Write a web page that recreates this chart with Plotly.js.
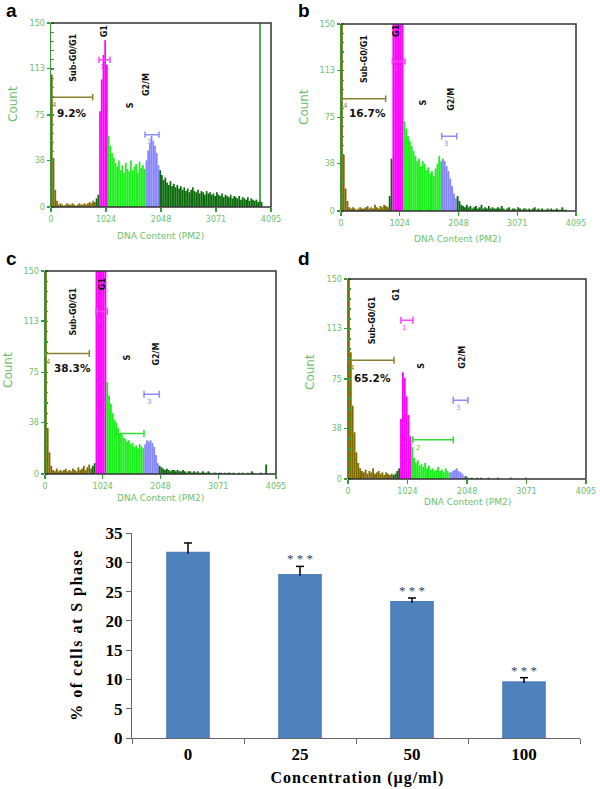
<!DOCTYPE html>
<html><head><meta charset="utf-8">
<script src="https://cdn.plot.ly/plotly-3.0.1.min.js"></script>
<style>html,body{margin:0;padding:0;background:#fff;}#chart{width:600px;height:789px;}</style>
</head><body><div id="chart"></div>
<script>
// ===================== DATA =====================
const binWidth = 32; // channels per histogram bin (0..4095)

const countsA = [108,40,14,5,2,3,2,1,2,3,2,2,3,2,1,2,3,2,2,3,2,3,4,3,5,4,
  7,10,
  78,104,124,136,116,
  58,50,44,40,36,33,38,30,34,28,36,31,29,38,30,33,35,28,37,32,34,31,
  38,46,52,58,54,50,44,34,
  30,26,22,24,20,18,21,17,19,16,18,15,17,14,16,13,15,12,14,16,
  13,12,14,11,13,12,10,13,11,12,10,11,9,12,10,9,11,8,10,9,
  8,10,7,9,8,7,9,6,8,7,6,8,5,7,6,5,6,4,5,4,
  0,0,0,0,0];
const countsB = [160,45,18,8,3,2,3,2,1,2,3,2,2,3,4,2,3,2,5,3,2,4,3,5,4,3,
  12,42,
  155,175,185,180,165,152,
  72,66,60,56,52,48,44,40,42,36,40,38,33,35,30,32,28,34,38,44,40,
  42,40,36,32,26,20,14,10,
  12,8,5,4,3,5,3,4,2,3,4,2,3,5,2,3,2,4,2,3,
  2,2,3,2,4,2,1,2,3,1,2,2,1,3,2,1,2,2,1,2,
  1,2,3,1,2,1,2,1,1,2,1,2,1,1,2,1,1,3,1,1,
  0,0,0,0,0];
const countsC = [160,34,16,6,3,2,4,2,3,2,3,4,2,3,2,4,3,2,5,3,4,6,3,5,7,4,
  6,8,
  160,170,180,178,170,158,
  68,58,52,45,40,38,34,30,30,27,26,24,25,22,23,20,21,19,22,20,19,
  22,25,24,25,23,20,14,8,
  6,5,4,3,4,3,2,3,3,2,3,2,2,3,2,1,2,2,1,2,
  1,2,1,1,2,1,1,2,1,0,1,1,0,1,1,0,1,0,1,1,
  0,1,0,0,1,0,1,0,0,1,0,2,1,0,0,0,1,0,0,7,
  0,0,0,0,0];
const countsD = [160,95,55,35,20,12,8,6,5,7,4,6,5,8,4,5,6,4,5,3,5,4,3,4,
  3,4,6,8,
  45,80,76,62,48,32,
  24,16,12,14,10,11,9,12,8,10,7,8,6,7,9,6,7,5,8,6,5,
  5,6,7,8,6,5,4,2,
  2,1,0,1,0,0,1,0,1,0,0,0,1,0,0,0,0,1,0,0,
  0,0,0,0,1,0,0,0,0,0,0,0,1,0,0,0,0,0,0,0,
  0,0,0,0,0,0,0,0,0,0,0,0,0,0,0,0,0,0,0,0,0,0,0,0,0];

// gate boundaries (channels): subG0/G1 | pre-G1 | G1 | S | G2/M | beyond
const gatesA = [832, 896, 1056, 1760, 2016];
const gatesB = [832, 896, 1088, 1760, 2016];
const gatesC = [832, 896, 1088, 1760, 2016];
const gatesD = [768, 896, 1088, 1760, 2016];

// region markers [start channel, end channel, count level]
const markSubA = [0, 776, 89.5], markG1A = [893, 1098, 120], markG2A = [1750, 2010, 59];
const markSubB = [0, 778, 90],   markG1B = [894, 1115, 120], markG2B = [1754, 2016, 60];
const markSubC = [0, 786, 89],   markG1C = [904, 1105, 120], markSC = [1241, 1755, 30], markG2C = [1755, 2027, 59];
const markSubD = [0, 792, 89],   markG1D = [910, 1116, 119], markSD = [1116, 1810, 29.5], markG2D = [1810, 2064, 59];
const gateLineA = 3890;

const pctLabels = ['9.2%', '16.7%', '38.3%', '65.2%'];
const phaseNames = ['Sub-G0/G1', 'G1', 'S', 'G2/M'];
const histXTicks = [0, 1024, 2048, 3071, 4095];
const histYTicks = [0, 38, 75, 113, 150];
const panelLetters = ['a', 'b', 'c', 'd'];

// bar chart
const concLabels = ['0', '25', '50', '100'];
const sPhase = [31.8, 28.0, 23.4, 9.7];
const sPhaseErr = [1.5, 1.3, 0.5, 0.6];
const signif = ['', '* * *', '* * *', '* * *'];

// ===================== STYLE / LAYOUT =====================
const W = 600, H = 789;
const px = x => x / W, py = y => 1 - y / H;
const OLIVE = '#7f6a00', DKG = '#0b6b0b', MAG = '#ff00ff', GRN = '#19f019', LAV = '#8585ff';
const AXG = '#3a9a3a', TXG = '#6cc06c';

const traces = [];
function histTraces(counts, gates, xa, ya) {
  const colors = [OLIVE, DKG, MAG, GRN, LAV, DKG];
  const groups = colors.map(() => ({x: [], y: []}));
  counts.forEach((c, i) => {
    const ch = i * binWidth + binWidth / 2;
    let g = 0; while (g < gates.length && ch >= gates[g]) g++;
    groups[g].x.push(ch); groups[g].y.push(c);
  });
  groups.forEach((gr, k) => traces.push({type: 'bar', x: gr.x, y: gr.y, width: binWidth,
    marker: {color: colors[k], line: {width: 0}}, xaxis: xa, yaxis: ya, hoverinfo: 'skip', showlegend: false}));
}
function markTrace(m, color, xa, ya) {
  if (!m) return;
  const c = 2.6;
  traces.push({type: 'scatter', mode: 'lines', x: [m[0], m[0], m[0], m[1], m[1], m[1]],
    y: [m[2] - c, m[2] + c, m[2], m[2], m[2] + c, m[2] - c],
    line: {color: color, width: 1.5}, xaxis: xa, yaxis: ya, hoverinfo: 'skip', showlegend: false});
}

const panels = [
  {counts: countsA, gates: gatesA, marks: [markSubA, markG1A, null, markG2A], dom: [51, 271, 23, 207],
   lab: [[415, 122], [986, 144], [1470, 83], [1781, 100]], pct: [400, 77], letter: [11, 10],
   countT: [13, 104], dnaT: [160, 236]},
  {counts: countsB, gates: gatesB, marks: [markSubB, markG1B, null, markG2B], dom: [341, 576, 24, 211],
   lab: [[418, 122], [970, 145], [1430, 87], [1934, 90]], pct: [453, 79], letter: [304, 10],
   countT: [304, 107], dnaT: [457, 239]},
  {counts: countsC, gates: gatesC, marks: [markSubC, markG1C, markSC, markG2C], dom: [45, 276, 271, 474],
   lab: [[514, 120], [1010, 141], [1471, 86], [1985, 89]], pct: [479, 78], letter: [11, 259],
   countT: [8, 370], dnaT: [160, 498]},
  {counts: countsD, gates: gatesD, marks: [markSubD, markG1D, markSD, markG2D], dom: [348, 586, 279, 479],
   lab: [[413, 119], [843, 139], [1273, 85], [1979, 91]], pct: [413, 76], letter: [304, 259],
   countT: [310, 372], dnaT: [467, 502]}
];
const markColors = ['#8c8030', '#ff44ff', '#33dd33', '#8c8cff'];
const markNums = ['4', '1', '2', '3'];

const layout = {width: W, height: H, margin: {l: 0, r: 0, t: 0, b: 0}, paper_bgcolor: '#fff', plot_bgcolor: '#fff',
  showlegend: false, barmode: 'overlay', annotations: [], shapes: []};
function paperNote(x, y, text, font, angle) {
  layout.annotations.push({x: px(x), y: py(y), xref: 'paper', yref: 'paper', xanchor: 'center', yanchor: 'middle',
    text: text, textangle: angle || 0, showarrow: false, font: font});
}

panels.forEach((p, k) => {
  const n = k + 1, xa = 'x' + (n === 1 ? '' : n), ya = 'y' + (n === 1 ? '' : n);
  const xk = 'xaxis' + (n === 1 ? '' : n), yk = 'yaxis' + (n === 1 ? '' : n);
  histTraces(p.counts, p.gates, xa, ya);
  if (k === 0) traces.push({type: 'scatter', mode: 'lines', x: [gateLineA, gateLineA], y: [0, 150],
    line: {color: '#1f8f1f', width: 1.5}, xaxis: xa, yaxis: ya, hoverinfo: 'skip'});
  p.marks.forEach((m, j) => markTrace(m, markColors[j], xa, ya));
  layout[xk] = {domain: [px(p.dom[0]), px(p.dom[1])], range: [0, 4095], anchor: ya, tickmode: 'array',
    tickvals: histXTicks, ticktext: histXTicks.map(String), ticks: 'outside', ticklen: 4, tickcolor: AXG, tickwidth: 1.2,
    showline: false, showgrid: false, zeroline: false, fixedrange: true,
    tickfont: {family: 'DejaVu Sans', size: 8, color: TXG}};
  layout[yk] = {domain: [py(p.dom[3]), py(p.dom[2])], range: [0, 150], anchor: xa, tickmode: 'array',
    tickvals: histYTicks, ticktext: histYTicks.map(String), ticks: 'outside', ticklen: 3, tickcolor: AXG, tickwidth: 1.2,
    showline: true, linecolor: AXG, linewidth: 1.5, showgrid: false, zeroline: false, fixedrange: true,
    minor: {tickmode: 'linear', tick0: 0, dtick: 7.5, ticks: 'inside', ticklen: 3, tickcolor: AXG, showgrid: false},
    tickfont: {family: 'DejaVu Sans', size: 8, color: TXG}};
  layout.shapes.push({type: 'path', xref: xa + ' domain', yref: ya + ' domain', path: 'M0,0 L1,0 L1,1 L0,1',
    line: {color: '#333', width: 1.5}, layer: 'above'});
  phaseNames.forEach((t, j) => layout.annotations.push({x: p.lab[j][0], y: p.lab[j][1], xref: xa, yref: ya, text: t,
    xanchor: 'center', yanchor: 'middle', textangle: -90, showarrow: false,
    font: {family: 'DejaVu Sans', size: 8, color: '#111', weight: 'bold'}}));
  layout.annotations.push({x: p.pct[0], y: p.pct[1], xref: xa, yref: ya, text: pctLabels[k], showarrow: false,
    xanchor: 'center', yanchor: 'middle', font: {family: 'DejaVu Sans', size: 10.5, color: '#111', weight: 'bold'}});
  p.marks.forEach((m, j) => { if (!m) return;
    const xoff = j === 0 ? 70 : (j === 2 ? 90 : 0.3 * (m[1] - m[0]));
    layout.annotations.push({x: m[0] + xoff, y: m[2] - 6, xref: xa, yref: ya, text: markNums[j], showarrow: false,
      xanchor: 'center', yanchor: 'middle', font: {family: 'DejaVu Sans', size: 7, color: markColors[j]}});
  });
  paperNote(p.letter[0], p.letter[1], panelLetters[k], {family: 'Liberation Sans', size: 19, color: '#000', weight: 'bold'});
  paperNote(p.countT[0], p.countT[1], 'Count', {family: 'DejaVu Sans', size: 12, color: TXG}, -90);
  paperNote(p.dnaT[0], p.dnaT[1], 'DNA Content (PM2)', {family: 'DejaVu Sans', size: 9, color: TXG});
});

// bar chart
traces.push({type: 'bar', x: concLabels, y: sPhase, xaxis: 'x5', yaxis: 'y5', width: 0.39,
  marker: {color: '#4f81bd', line: {width: 0}}, hoverinfo: 'skip'});
// upward-only error bars (line + top cap), in data coordinates
concLabels.forEach((c, i) => {
  const top = sPhase[i] + sPhaseErr[i];
  layout.shapes.push({type: 'line', xref: 'x5', yref: 'y5', x0: i, x1: i, y0: sPhase[i] - 0.3, y1: top,
    line: {color: '#000', width: 1.5}, layer: 'above'});
  layout.shapes.push({type: 'line', xref: 'x5', yref: 'y5', x0: i - 0.036, x1: i + 0.036, y0: top, y1: top,
    line: {color: '#000', width: 1.5}, layer: 'above'});
});
const serifB = {family: 'Liberation Serif', size: 17, color: '#000', weight: 'bold'};
layout.xaxis5 = {domain: [px(132), px(580)], anchor: 'y5', type: 'category', range: [-0.5, 3.5],
  tickson: 'boundaries', ticks: 'outside', ticklen: 5, tickcolor: '#666', showline: true, linecolor: '#666',
  linewidth: 1.2, showgrid: false, zeroline: false, tickfont: serifB, fixedrange: true};
layout.yaxis5 = {domain: [py(738), py(533)], anchor: 'x5', range: [0, 35], dtick: 5, tick0: 0, ticks: 'outside',
  ticklen: 5, tickcolor: '#666', showline: true, linecolor: '#666', linewidth: 1.2, showgrid: false,
  zeroline: false, tickfont: serifB, fixedrange: true};
concLabels.forEach((c, i) => { if (!signif[i]) return;
  layout.annotations.push({x: i, y: sPhase[i] + sPhaseErr[i], xref: 'x5', yref: 'y5', text: signif[i],
    showarrow: false, xanchor: 'center', yanchor: 'bottom', yshift: -2,
    font: {family: 'Liberation Serif', size: 13, color: '#444'}});
});
const yTitle = '% of cells at S phase', xTitle = 'Concentration (µg/ml)';
paperNote(77, 635, yTitle, {family: 'Liberation Serif', size: 16, color: '#000', weight: 'bold'}, -90);
paperNote(357, 778, xTitle, {family: 'Liberation Serif', size: 16, color: '#000', weight: 'bold'});

Plotly.newPlot('chart', traces, layout, {staticPlot: true, displayModeBar: false}).then(() => {
  // the reference sets these two titles with wide letter spacing
  document.querySelectorAll('.annotation-text').forEach(t => {
    if (t.textContent === yTitle) t.style.letterSpacing = '1.5px';
    if (t.textContent === xTitle) t.style.letterSpacing = '1px';
  });
});
</script></body></html>
